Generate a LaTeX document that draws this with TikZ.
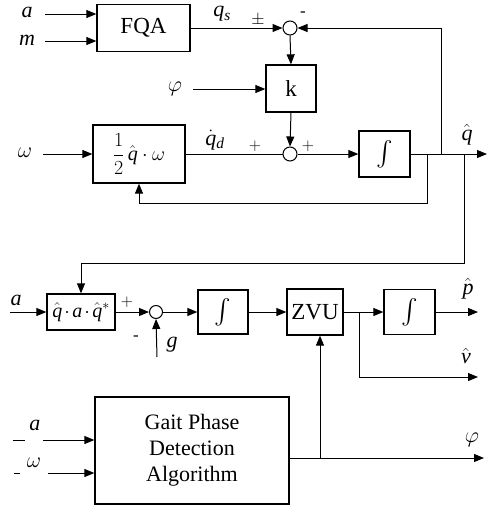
\documentclass[tikz,border=0pt]{standalone}
\usepackage{fix-cm}
\usepackage{amsmath}
\usepackage{fontspec}
\setmainfont{Liberation Serif}
\usetikzlibrary{arrows.meta,calc}
\newcommand{\bigint}{{\fontsize{30}{32}\selectfont$\int$}}
\newcommand{\tdot}{\mkern2mu{\cdot}\mkern2mu}
\begin{document}
\begin{tikzpicture}[x=1pt,y=-1pt,
  blk/.style={draw,line width=1.3pt,inner sep=0pt,font=\fontsize{23}{26}\selectfont},
  sj/.style={draw,circle,line width=1pt,minimum size=14pt,inner sep=0pt},
  ln/.style={line width=1pt},
  ar/.style={line width=1pt,-{Triangle[length=10pt,width=8pt]}},
  lab/.style={font=\fontsize{22}{24}\selectfont,inner sep=0pt},
  sgn/.style={font=\fontsize{17}{19}\selectfont,inner sep=0pt}]
\useasboundingbox (0,0) rectangle (487,507);
% blocks
\node[blk,minimum width=93pt,minimum height=47pt] (fqa) at (143.5,28) {FQA};
\node[sj] (c1) at (290,28) {};
\node[blk,minimum width=50pt,minimum height=47pt] (k) at (291,88.5) {k};
\node[blk,minimum width=92pt,minimum height=58pt,font=\fontsize{20}{22}\selectfont] (half) at (139,154) {$\displaystyle\frac{1}{2}\,\hat{\mathit{q}}\cdot\omega$};
\node[sj] (c2) at (290,154) {};
\node[blk,minimum width=51pt,minimum height=46pt] (int1) at (384.5,154) {\bigint};
\node[blk,minimum width=68pt,minimum height=36pt,font=\fontsize{20}{22}\selectfont] (qaq) at (81,312) {$\hat{\mathit{q}}\tdot\mathit{a}\tdot\hat{\mathit{q}}^{*}$};
\node[sj,minimum size=13pt] (c3) at (156,312) {};
\node[blk,minimum width=50pt,minimum height=44pt] (int2) at (223,312) {\bigint};
\node[blk,minimum width=56pt,minimum height=46pt] (zvu) at (315,312) {ZVU};
\node[blk,minimum width=51pt,minimum height=45pt] (int3) at (409.5,312) {\bigint};
\node[blk,minimum width=194pt,minimum height=107pt,align=center,font=\fontsize{22}{26}\selectfont] (gait) at (192,450.5) {Gait Phase\\Detection\\Algorithm};
% coordinates
\coordinate (ain) at (45,14);
\coordinate (min) at (45,41);
\coordinate (phin) at (193,89);
\coordinate (win) at (43,154);
\coordinate (qout) at (487,154);
\coordinate (fbA) at (441,154);
\coordinate (fbB) at (427,154);
\coordinate (fbBd) at (427,203);
\coordinate (brq) at (464,154);
\coordinate (brqd) at (464,263);
\coordinate (a2in) at (10,312);
\coordinate (gin) at (157,357);
\coordinate (pout) at (478,312);
\coordinate (vbr) at (359,312);
\coordinate (vbrd) at (359,377);
\coordinate (vout) at (478,377);
\coordinate (phout) at (484,458);
\coordinate (gz) at (320,458);
\coordinate (a3a) at (13,440);
\coordinate (a3b) at (25,440);
\coordinate (a3c) at (43,440);
\coordinate (w3a) at (14,473);
\coordinate (w3b) at (20,473);
\coordinate (w3c) at (48,473);
% connectors
\draw[ar] (ain) -- (ain -| fqa.west);
\draw[ar] (min) -- (min -| fqa.west);
\draw[ar] (fqa.east) -- (c1.west);
\draw[ar] (fbA) |- (c1.east);
\draw[ar] (c1.south) -- (k.north);
\draw[ar] (phin) -- (phin -| k.west);
\draw[ar] (k.south) -- (c2.north);
\draw[ar] (win) -- (win -| half.west);
\draw[ln] (half.east) -- (c2.west);
\draw[ar] (c2.east) -- (int1.west);
\draw[ar] (int1.east) -- (qout);
\draw[ar] (fbB) -- (fbBd) -| (half.south);
\draw[ar] (brq) -- (brqd) -| (qaq.north);
\draw[ar] (a2in) -- (qaq.west);
\draw[ar] (qaq.east) -- (c3.west);
\draw[ar] (gin) -- (c3.south);
\draw[ar] (c3.east) -- (int2.west);
\draw[ar] (int2.east) -- (zvu.west);
\draw[ar] (zvu.east) -- (int3.west);
\draw[ar] (int3.east) -- (pout);
\draw[ar] (vbr) -- (vbrd) -- (vout);
\draw[ar] (gait.east |- phout) -- (phout);
\draw[ar] (gz) -- (gz |- zvu.south);
\draw[ln] (a3a) -- (a3b);
\draw[ar] (a3c) -- (a3c -| gait.west);
\draw[ln] (w3a) -- (w3b);
\draw[ar] (w3c) -- (w3c -| gait.west);
% labels
\node[lab] (la) at (27,12) {$\mathit{a}$};
\node[lab] (lm) at (27,40) {$\mathit{m}$};
\node[lab] (lqs) at (222,14) {$\mathit{q}_{\mathit{s}}$};
\node[sgn] (lpm) at (258,20) {$\pm$};
\node[sgn] (lmin1) at (303,14) {-};
\node[lab] (lphi) at (175,89) {$\varphi$};
\node[lab] (lw) at (25,153) {$\omega$};
\node[lab] (lqd) at (215,140) {$\dot{\mathit{q}}_{\mathit{d}}$};
\node[sgn] (lp1) at (255,146) {$+$};
\node[sgn] (lp2) at (308,146) {$+$};
\node[lab] (lqh) at (467,135) {$\hat{\mathit{q}}$};
\node[lab] (la2) at (16,300) {$\mathit{a}$};
\node[sgn] (lp3) at (127,302) {$+$};
\node[sgn] (lmin2) at (136,338) {-};
\node[lab] (lg) at (172,345) {$\mathit{g}$};
\node[lab] (lph) at (468,289) {$\hat{\mathit{p}}$};
\node[lab] (lvh) at (466,356) {$\hat{\mathit{v}}$};
\node[lab] (la3) at (35,425) {$\mathit{a}$};
\node[lab] (lw3) at (34,463) {$\omega$};
\node[lab] (lphi2) at (472,440) {$\varphi$};
\end{tikzpicture}
\end{document}
